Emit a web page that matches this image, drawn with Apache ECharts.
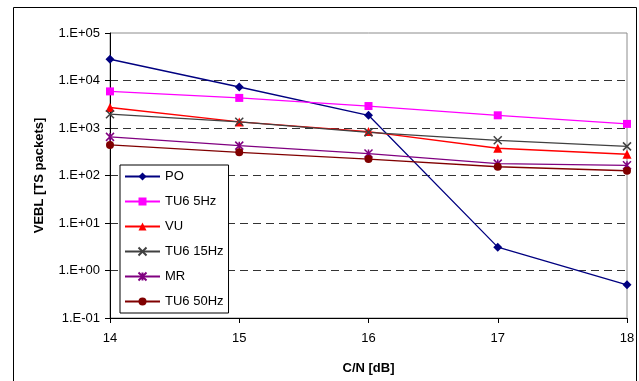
<!DOCTYPE html>
<html>
<head>
<meta charset="utf-8">
<script src="https://cdn.jsdelivr.net/npm/echarts@6/dist/echarts.min.js"></script>
<style>
  html, body { margin: 0; padding: 0; background: #fff; }
  #chart { width: 639px; height: 381px; }
</style>
</head>
<body>
<div id="chart"></div>
<script>
// C/N values on the x axis (dB)
const cnValues = [14, 15, 16, 17, 18];

// VEBL per channel model [TS packets]
const poValues      = [28000, 7300, 1850, 3.1, 0.5];
const tu6_5Values   = [5900, 4300, 2900, 1850, 1220];
const vuValues      = [2700, 1340, 840, 375, 280];
const tu6_15Values  = [1950, 1350, 810, 550, 410];
const mrValues      = [650, 425, 290, 178, 164];
const tu6_50Values  = [440, 308, 222, 153, 126];

const seriesNames = ['PO', 'TU6 5Hz', 'VU', 'TU6 15Hz', 'MR', 'TU6 50Hz'];
const yTickLabels = ['1.E-01', '1.E+00', '1.E+01', '1.E+02', '1.E+03', '1.E+04', '1.E+05'];

const FONT = '"Liberation Sans", Arial, sans-serif';

const crossPath = 'path://M0,0L10,10M10,0L0,10';
const starPath = 'path://M0,0L10,10M10,0L0,10M5,0L5,10';

function pairs(vals) {
  return cnValues.map((x, i) => [x, vals[i]]);
}

function mkSeries(name, vals, color, symbol, size, stroke) {
  const s = {
    name: name,
    type: 'line',
    data: pairs(vals),
    symbol: symbol,
    symbolSize: size,
    showAllSymbol: true,
    lineStyle: { color: color, width: 1.3 },
    itemStyle: { color: color },
    emphasis: { disabled: true },
    animation: false,
    z: 3
  };
  if (stroke) {
    s.itemStyle = { color: 'rgba(0,0,0,0)', borderColor: color, borderWidth: 1.5 };
  }
  return s;
}

const chart = echarts.init(document.getElementById('chart'), null, { renderer: 'canvas' });

chart.setOption({
  backgroundColor: '#fff',
  animation: false,
  textStyle: { fontFamily: FONT },
  graphic: [{
    type: 'rect',
    shape: { x: 13.5, y: 7.5, width: 623, height: 380 },
    style: { fill: 'none', stroke: '#000', lineWidth: 1 },
    silent: true,
    z: -1
  }],
  grid: {
    left: 110, right: 12, top: 33, bottom: 63,
    show: true, borderColor: '#8c8c8c', borderWidth: 1,
    backgroundColor: 'transparent'
  },
  legend: {
    orient: 'vertical',
    left: 120, top: 165,
    data: seriesNames,
    itemWidth: 35, itemHeight: 10, itemGap: 12,
    padding: [5, 5, 5, 4],
    backgroundColor: '#fff',
    borderColor: '#000', borderWidth: 1,
    borderRadius: 0,
    textStyle: { fontFamily: FONT, fontSize: 13, color: '#000' },
    selectedMode: false,
    z: 10
  },
  xAxis: {
    type: 'value',
    min: 14, max: 18, interval: 1,
    name: 'C/N [dB]',
    nameLocation: 'middle',
    nameGap: 44,
    nameTextStyle: { fontFamily: FONT, fontSize: 13, fontWeight: 'bold', color: '#000' },
    axisLine: { show: true, onZero: false, lineStyle: { color: '#000', width: 1 } },
    axisTick: { show: true, inside: false, length: 5, lineStyle: { color: '#000' } },
    axisLabel: { fontFamily: FONT, fontSize: 13, color: '#000', margin: 14 },
    splitLine: { show: false }
  },
  yAxis: {
    type: 'log',
    logBase: 10,
    min: 0.1, max: 100000,
    name: 'VEBL [TS packets]',
    nameLocation: 'middle',
    nameGap: 64,
    nameRotate: 90,
    nameTextStyle: { fontFamily: FONT, fontSize: 13, fontWeight: 'bold', color: '#000' },
    axisLine: { show: true, lineStyle: { color: '#000', width: 1 } },
    axisTick: { show: true, inside: false, length: 5, lineStyle: { color: '#000' } },
    axisLabel: {
      fontFamily: FONT, fontSize: 13, color: '#000', margin: 10,
      formatter: function (v) {
        const idx = Math.round(Math.log10(v)) + 1;
        return yTickLabels[idx] || '';
      }
    },
    splitLine: {
      show: true,
      showMinLine: false,
      showMaxLine: false,
      lineStyle: { color: '#333', type: [8, 5], width: 1 }
    }
  },
  series: [
    mkSeries(seriesNames[0], poValues, '#000080', 'diamond', 9),
    mkSeries(seriesNames[1], tu6_5Values, '#ff00ff', 'rect', 8),
    mkSeries(seriesNames[2], vuValues, '#ff0000', 'triangle', 9),
    mkSeries(seriesNames[3], tu6_15Values, '#404040', crossPath, 8, true),
    mkSeries(seriesNames[4], mrValues, '#800080', starPath, 8, true),
    mkSeries(seriesNames[5], tu6_50Values, '#800000', 'circle', 8)
  ]
});
</script>
</body>
</html>
